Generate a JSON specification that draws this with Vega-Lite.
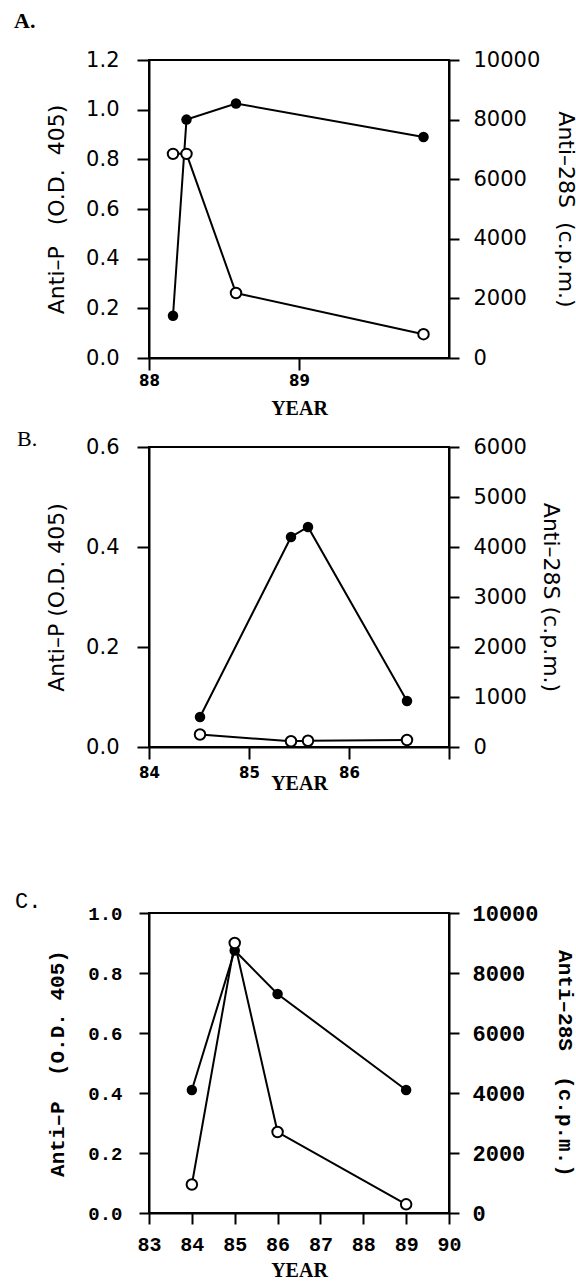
{
  "$schema": "https://vega.github.io/schema/vega-lite/v6.json",
  "autosize": {"type": "pad"},
  "padding": {"left": 13, "top": 9, "right": 0, "bottom": 0},
  "background": "white",
  "config": {
    "view": {"stroke": "black", "strokeWidth": 2},
    "axis": {"domainColor": "black", "domainWidth": 2, "tickColor": "black", "tickWidth": 2, "grid": false, "labelColor": "black", "titleColor": "black", "labelOverlap": false, "labelFlush": false, "labelBound": false},
    "line": {"color": "black", "strokeWidth": 2},
    "title": {"color": "black"}
  },
  "datasets": {
    "A_P": [{"year": 88.16, "value": 0.17}, {"year": 88.25, "value": 0.96}, {"year": 88.58, "value": 1.025}, {"year": 89.83, "value": 0.89}],
    "A_S": [{"year": 88.16, "value": 6850}, {"year": 88.25, "value": 6850}, {"year": 88.58, "value": 2180}, {"year": 89.83, "value": 800}],
    "B_P": [{"year": 84.51, "value": 0.06}, {"year": 85.42, "value": 0.42}, {"year": 85.59, "value": 0.44}, {"year": 86.58, "value": 0.092}],
    "B_S": [{"year": 84.51, "value": 250}, {"year": 85.42, "value": 115}, {"year": 85.59, "value": 125}, {"year": 86.58, "value": 140}],
    "C_P": [{"year": 84, "value": 0.41}, {"year": 85, "value": 0.875}, {"year": 86, "value": 0.73}, {"year": 89, "value": 0.41}],
    "C_S": [{"year": 84, "value": 950}, {"year": 85, "value": 9000}, {"year": 86, "value": 2700}, {"year": 89, "value": 290}]
  },
  "spacing": 95,
  "vconcat": [
    {
      "spacing": 8,
      "vconcat": [
        {
          "width": 300, "height": 298,
          "title": {"text": "A.", "anchor": "start", "frame": "group", "dx": -135, "baseline": "bottom", "offset": -6, "font": "Liberation Serif", "fontSize": 22, "fontWeight": "bold"},
          "layer": [
            {
              "data": {"name": "A_P"},
              "mark": {"type": "line", "point": {"filled": true, "color": "black", "size": 110}},
              "encoding": {
                "x": {"field": "year", "type": "quantitative", "scale": {"domain": [88, 90], "nice": false, "zero": false},
                  "axis": {"values": [88, 89], "format": "d", "labelFlush": false, "labelOverlap": false, "title": "YEAR", "titleFont": "Liberation Serif", "titleFontSize": 20, "titleFontWeight": "bold", "labelFont": "DejaVu Sans", "labelFontSize": 15, "labelFontWeight": "bold", "tickSize": 12, "labelPadding": 3, "titlePadding": 10}},
                "y": {"field": "value", "type": "quantitative", "scale": {"domain": [0, 1.2], "nice": false},
                  "axis": {"orient": "left", "values": [0, 0.2, 0.4, 0.6, 0.8, 1.0, 1.2], "format": ".1f", "labelFont": "DejaVu Sans", "labelFontSize": 21, "tickSize": 12, "labelPadding": 18, "title": "Anti–P\u00a0\u00a0\u00a0(O.D.\u00a0\u00a0405)", "titleFont": "DejaVu Sans", "titleFontSize": 22, "titleFontWeight": "normal", "titlePadding": 17}}
              }
            },
            {
              "data": {"name": "A_S"},
              "mark": {"type": "line", "point": {"filled": true, "fill": "white", "stroke": "black", "strokeWidth": 2, "size": 110}},
              "encoding": {
                "x": {"field": "year", "type": "quantitative"},
                "y": {"field": "value", "type": "quantitative", "scale": {"domain": [0, 10000], "nice": false},
                  "axis": {"orient": "right", "values": [0, 2000, 4000, 6000, 8000, 10000], "format": "d", "labelFont": "DejaVu Sans", "labelFontSize": 21, "tickSize": 10, "labelPadding": 14, "title": "Anti–28S\u00a0\u00a0(c.p.m.)", "titleFont": "DejaVu Sans", "titleFontSize": 22, "titleFontWeight": "normal", "titlePadding": 14}}
              }
            }
          ],
          "resolve": {"scale": {"y": "independent"}}
        },
        {
          "width": 300, "height": 300,
          "title": {"text": "B.", "anchor": "start", "frame": "group", "dx": -132, "baseline": "bottom", "offset": -37, "font": "Liberation Serif", "fontSize": 22, "fontWeight": "normal"},
          "layer": [
            {
              "data": {"name": "B_P"},
              "mark": {"type": "line", "point": {"filled": true, "color": "black", "size": 110}},
              "encoding": {
                "x": {"field": "year", "type": "quantitative", "scale": {"domain": [84, 87], "nice": false, "zero": false},
                  "axis": {"values": [84, 85, 86, 87], "tickCount": 10, "format": "d", "labelExpr": "datum.value > 86.5 ? '' : datum.label", "labelFlush": false, "labelOverlap": false, "title": "YEAR", "titleFont": "Liberation Serif", "titleFontSize": 20, "titleFontWeight": "bold", "labelFont": "DejaVu Sans", "labelFontSize": 15, "labelFontWeight": "bold", "tickSize": 12, "labelPadding": 6, "titlePadding": -7}},
                "y": {"field": "value", "type": "quantitative", "scale": {"domain": [0, 0.6], "nice": false},
                  "axis": {"orient": "left", "values": [0, 0.2, 0.4, 0.6], "format": ".1f", "labelFont": "DejaVu Sans", "labelFontSize": 21, "tickSize": 12, "labelPadding": 18, "title": "Anti–P (O.D. 405)", "titleFont": "DejaVu Sans", "titleFontSize": 22, "titleFontWeight": "normal", "titlePadding": 17}}
              }
            },
            {
              "data": {"name": "B_S"},
              "mark": {"type": "line", "point": {"filled": true, "fill": "white", "stroke": "black", "strokeWidth": 2, "size": 110}},
              "encoding": {
                "x": {"field": "year", "type": "quantitative"},
                "y": {"field": "value", "type": "quantitative", "scale": {"domain": [0, 6000], "nice": false},
                  "axis": {"orient": "right", "values": [0, 1000, 2000, 3000, 4000, 5000, 6000], "format": "d", "labelFont": "DejaVu Sans", "labelFontSize": 21, "tickSize": 10, "labelPadding": 14, "title": "Anti–28S (c.p.m.)", "titleFont": "DejaVu Sans", "titleFontSize": 22, "titleFontWeight": "normal", "titlePadding": 12}}
              }
            }
          ],
          "resolve": {"scale": {"y": "independent"}}
        }
      ]
    },
    {
      "width": 300, "height": 300,
      "title": {"text": "C.", "anchor": "start", "frame": "group", "dx": -134, "baseline": "bottom", "offset": -33, "font": "Liberation Mono", "fontSize": 22, "fontWeight": "normal"},
      "layer": [
        {
          "data": {"name": "C_P"},
          "mark": {"type": "line", "point": {"filled": true, "color": "black", "size": 110}},
          "encoding": {
            "x": {"field": "year", "type": "quantitative", "scale": {"domain": [83, 90], "nice": false, "zero": false},
              "axis": {"values": [83, 84, 85, 86, 87, 88, 89, 90], "tickCount": 10, "format": "d", "labelFlush": false, "title": "YEAR", "titleFont": "Liberation Serif", "titleFontSize": 20, "titleFontWeight": "bold", "labelFont": "Liberation Mono", "labelFontSize": 20, "labelFontWeight": "bold", "tickSize": 11, "labelPadding": 10, "titlePadding": 6}},
            "y": {"field": "value", "type": "quantitative", "scale": {"domain": [0, 1.0], "nice": false},
              "axis": {"orient": "left", "values": [0, 0.2, 0.4, 0.6, 0.8, 1.0], "format": ".1f", "labelFont": "Liberation Mono", "labelFontSize": 19, "labelFontWeight": "bold", "tickSize": 10, "labelPadding": 17, "title": "Anti–P\u00a0\u00a0(O.D. 405)", "titleFont": "Liberation Mono", "titleFontSize": 21, "titleFontWeight": "bold", "titlePadding": 20}}
          }
        },
        {
          "data": {"name": "C_S"},
          "mark": {"type": "line", "point": {"filled": true, "fill": "white", "stroke": "black", "strokeWidth": 2, "size": 110}},
          "encoding": {
            "x": {"field": "year", "type": "quantitative"},
            "y": {"field": "value", "type": "quantitative", "scale": {"domain": [0, 10000], "nice": false},
              "axis": {"orient": "right", "values": [0, 2000, 4000, 6000, 8000, 10000], "format": "d", "labelFont": "Liberation Mono", "labelFontSize": 22, "labelFontWeight": "bold", "tickSize": 10, "labelPadding": 13, "title": "Anti–28S\u00a0\u00a0(c.p.m.)", "titleFont": "Liberation Mono", "titleFontSize": 21, "titleFontWeight": "bold", "titlePadding": 16}}
          }
        }
      ],
      "resolve": {"scale": {"y": "independent"}}
    }
  ]
}
